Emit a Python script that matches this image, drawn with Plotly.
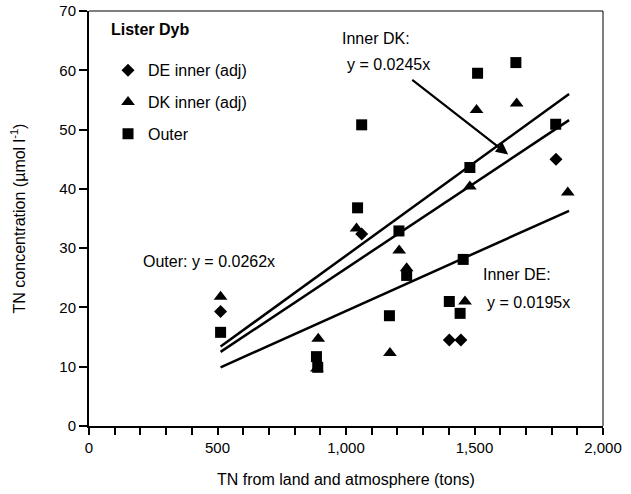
import plotly.graph_objects as go

# ---- data ----
de_x = [512, 1061, 1402, 1447, 1817]
de_y = [19.3, 32.4, 14.5, 14.5, 45.0]

dk_x = [512, 892, 887, 1041, 1171, 1207, 1236, 1463, 1482, 1508, 1664, 1863]
dk_y = [21.8, 14.7, 9.7, 33.3, 12.3, 29.6, 26.6, 21.0, 40.4, 53.3, 54.4, 39.4]

out_x = [512, 885, 890, 1045, 1061, 1169, 1206, 1236, 1402, 1444, 1456, 1482, 1512, 1661, 1816]
out_y = [15.8, 11.7, 9.9, 36.8, 50.8, 18.6, 32.9, 25.4, 21.0, 19.0, 28.1, 43.6, 59.5, 61.3, 50.9]

# trend line end points as drawn
line_x = [512, 1868]
line_outer_y = [13.4, 56.0]
line_dk_y = [12.5, 51.6]
line_de_y = [9.9, 36.3]

x_ticks = [0, 500, 1000, 1500, 2000]
y_ticks = [0, 10, 20, 30, 40, 50, 60, 70]

FONT = "Liberation Sans, Arial, sans-serif"
FS = 16

fig = go.Figure()

for ly in (line_outer_y, line_dk_y, line_de_y):
    fig.add_trace(go.Scatter(x=line_x, y=ly, mode="lines",
                             line=dict(color="black", width=2.5),
                             showlegend=False, hoverinfo="skip"))

fig.add_trace(go.Scatter(x=de_x, y=de_y, mode="markers", name="DE inner (adj)",
                         legendgroup="a",
                         marker=dict(symbol="diamond", size=10, color="black")))
fig.add_trace(go.Scatter(x=dk_x, y=dk_y, mode="markers", name="DK inner (adj)",
                         legendgroup="b",
                         marker=dict(symbol="triangle-up", size=12, color="black")))
fig.add_trace(go.Scatter(x=out_x, y=out_y, mode="markers", name="Outer",
                         legendgroup="c",
                         marker=dict(symbol="square", size=11, color="black")))

def note(text, x, y, bold=False):
    fig.add_annotation(x=x, y=y, xref="x", yref="y", text=("<b>%s</b>" % text) if bold else text,
                       showarrow=False, xanchor="left", yanchor="middle",
                       font=dict(family=FONT, size=FS, color="black"))

note("Lister Dyb", 78, 66.9, bold=True)
note("Inner DK:", 976, 65.4)
note("y = 0.0245x", 995, 60.9)
note("Outer: y = 0.0262x", 202, 27.8)
note("Inner DE:", 1524, 25.6)
note("y = 0.0195x", 1539, 20.8)

# arrow from the DK label to the DK line
fig.add_annotation(x=1631, y=45.8, ax=1252, ay=58.6, xref="x", yref="y",
                   axref="x", ayref="y", text="", showarrow=True,
                   arrowhead=2, arrowsize=1.1, arrowwidth=2.2, arrowcolor="black")

# thin frame on top/right
fig.add_shape(type="line", xref="paper", yref="paper", x0=0, x1=1, y0=1, y1=1,
              line=dict(color="black", width=1))
fig.add_shape(type="line", xref="paper", yref="paper", x0=1, x1=1, y0=0, y1=1,
              line=dict(color="black", width=1))

fig.update_layout(
    width=631, height=494,
    margin=dict(l=89, r=28, t=11, b=68),
    paper_bgcolor="white", plot_bgcolor="white",
    font=dict(family=FONT, size=FS, color="black"),
    separators=".,",
    legend=dict(x=0.037, y=0.898, xanchor="left", yanchor="top",
                bgcolor="rgba(0,0,0,0)", tracegroupgap=8,
                font=dict(family=FONT, size=FS, color="black")),
    xaxis=dict(range=[0, 2000], tickvals=x_ticks, tickformat=",d",
               automargin=False,
               showgrid=False, zeroline=False, showline=True,
               linecolor="black", linewidth=2, ticks="outside", ticklen=7,
               tickwidth=1.5, tickcolor="black",
               tickfont=dict(family=FONT, size=15),
               minor=dict(dtick=100, ticks="outside", ticklen=7, tickwidth=1.5,
                          tickcolor="black", showgrid=False),
               title=dict(text="TN from land and atmosphere (tons)", standoff=19,
                          font=dict(family=FONT, size=FS))),
    yaxis=dict(range=[0, 70], tickvals=y_ticks,
               automargin=False,
               showgrid=False, zeroline=False, showline=True,
               linecolor="black", linewidth=2, ticks="outside", ticklen=8,
               tickwidth=1.5, tickcolor="black",
               tickfont=dict(family=FONT, size=15),
               title=dict(text="TN concentration (µmol l<sup>-1</sup>)", standoff=30,
                          font=dict(family=FONT, size=FS))),
)

fig.write_html("out.html")
